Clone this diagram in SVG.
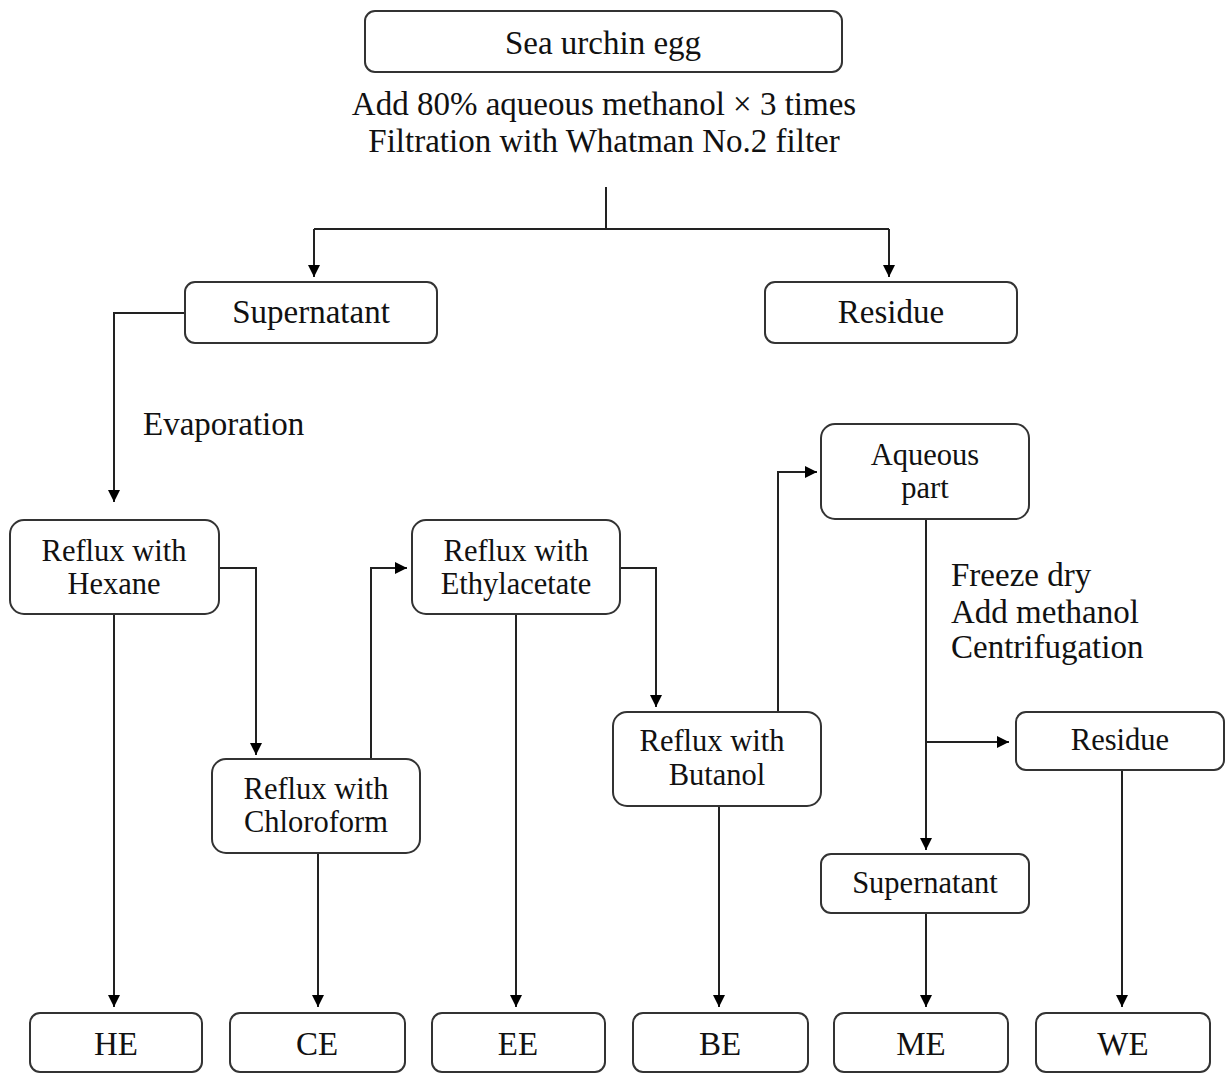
<svg xmlns="http://www.w3.org/2000/svg" width="1226" height="1073" viewBox="0 0 1226 1073">
<style>
.box{fill:#fff;stroke:#333;stroke-width:2}
.t{font-family:"Liberation Serif","Times New Roman",serif;font-size:33px;fill:#111;text-anchor:middle}
.ts{font-family:"Liberation Serif","Times New Roman",serif;font-size:30.5px;fill:#111;text-anchor:middle}
.tl{font-family:"Liberation Serif","Times New Roman",serif;font-size:33px;fill:#111}
.c{fill:none;stroke:#222;stroke-width:2}
</style>
<defs>
<marker id="ah" viewBox="0 0 10 10" refX="10" refY="5" markerWidth="13" markerHeight="12" markerUnits="userSpaceOnUse" orient="auto">
<path d="M0,0 L10,5 L0,10 Z" fill="#000"/>
</marker>
</defs>
<rect width="1226" height="1073" fill="#fff"/>
<g id="connectors">
<path class="c" d="M606,187 V229"/>
<path class="c" d="M314,229 H889"/>
<path class="c" d="M314,229 V277" marker-end="url(#ah)"/>
<path class="c" d="M889,229 V277" marker-end="url(#ah)"/>
<path class="c" d="M185,313 H114 V502" marker-end="url(#ah)"/>
<path class="c" d="M219,568 H256 V755" marker-end="url(#ah)"/>
<path class="c" d="M371,759 V568 H407" marker-end="url(#ah)"/>
<path class="c" d="M620,568 H656 V707" marker-end="url(#ah)"/>
<path class="c" d="M778,712 V472 H817" marker-end="url(#ah)"/>
<path class="c" d="M926,519 V850" marker-end="url(#ah)"/>
<path class="c" d="M926,742 H1009" marker-end="url(#ah)"/>
<path class="c" d="M114,614 V1007" marker-end="url(#ah)"/>
<path class="c" d="M318,853 V1007" marker-end="url(#ah)"/>
<path class="c" d="M516,614 V1007" marker-end="url(#ah)"/>
<path class="c" d="M719,806 V1007" marker-end="url(#ah)"/>
<path class="c" d="M926,913 V1007" marker-end="url(#ah)"/>
<path class="c" d="M1122,770 V1007" marker-end="url(#ah)"/>
</g>
<g id="labels">
<text class="t" x="604" y="115">Add 80% aqueous methanol × 3 times</text>
<text class="t" x="604" y="152">Filtration with Whatman No.2 filter</text>
<text class="tl" x="143" y="435">Evaporation</text>
<text class="tl" x="951" y="586">Freeze dry</text>
<text class="tl" x="951" y="623">Add methanol</text>
<text class="tl" x="951" y="658">Centrifugation</text>
</g>
<g id="sea-urchin-egg"><rect class="box" x="365" y="11" width="477" height="61" rx="10"/><text class="t" x="603" y="54">Sea urchin egg</text></g>
<g id="supernatant1"><rect class="box" x="185" y="282" width="252" height="61" rx="10"/><text class="t" x="311" y="323">Supernatant</text></g>
<g id="residue1"><rect class="box" x="765" y="282" width="252" height="61" rx="10"/><text class="t" x="891" y="323">Residue</text></g>
<g id="hexane"><rect class="box" x="10" y="520" width="209" height="94" rx="14"/><text class="ts" x="114" y="561">Reflux with</text><text class="ts" x="114" y="594">Hexane</text></g>
<g id="chloroform"><rect class="box" x="212" y="759" width="208" height="94" rx="14"/><text class="ts" x="316" y="799">Reflux with</text><text class="ts" x="316" y="832">Chloroform</text></g>
<g id="ethylacetate"><rect class="box" x="412" y="520" width="208" height="94" rx="14"/><text class="ts" x="516" y="561">Reflux with</text><text class="ts" x="516" y="594">Ethylacetate</text></g>
<g id="butanol"><rect class="box" x="613" y="712" width="208" height="94" rx="14"/><text class="ts" x="712" y="751">Reflux with</text><text class="ts" x="717" y="785">Butanol</text></g>
<g id="aqueous"><rect class="box" x="821" y="424" width="208" height="95" rx="14"/><text class="ts" x="925" y="465">Aqueous</text><text class="ts" x="925" y="498">part</text></g>
<g id="residue2"><rect class="box" x="1016" y="712" width="208" height="58" rx="10"/><text class="ts" x="1120" y="750">Residue</text></g>
<g id="supernatant2"><rect class="box" x="821" y="854" width="208" height="59" rx="10"/><text class="ts" x="925" y="893">Supernatant</text></g>
<g id="HE"><rect class="box" x="30" y="1013" width="172" height="59" rx="10"/><text class="t" x="116" y="1055">HE</text></g>
<g id="CE"><rect class="box" x="230" y="1013" width="175" height="59" rx="10"/><text class="t" x="317" y="1055">CE</text></g>
<g id="EE"><rect class="box" x="432" y="1013" width="173" height="59" rx="10"/><text class="t" x="518" y="1055">EE</text></g>
<g id="BE"><rect class="box" x="633" y="1013" width="175" height="59" rx="10"/><text class="t" x="720" y="1055">BE</text></g>
<g id="ME"><rect class="box" x="834" y="1013" width="174" height="59" rx="10"/><text class="t" x="921" y="1055">ME</text></g>
<g id="WE"><rect class="box" x="1036" y="1013" width="174" height="59" rx="10"/><text class="t" x="1123" y="1055">WE</text></g>
</svg>
